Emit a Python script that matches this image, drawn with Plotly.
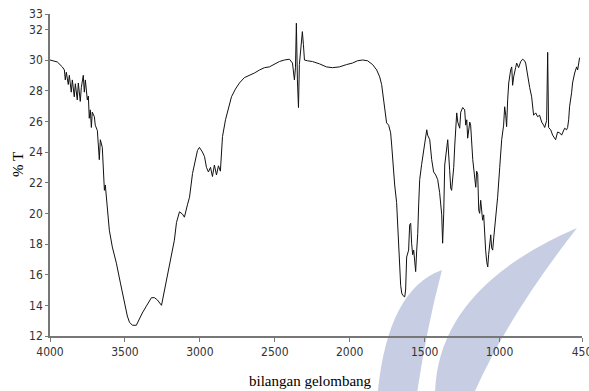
import plotly.graph_objects as go

# Wavenumber (cm-1) and transmittance (%T)
wavenumber = [4000, 3951, 3918, 3904, 3898, 3891, 3878, 3871, 3858, 3851, 3838, 3831, 3818, 3811,
              3798, 3791, 3778, 3771, 3764, 3751, 3744, 3738, 3731, 3724, 3718, 3704, 3698, 3684,
              3671, 3664, 3651, 3644, 3637, 3631, 3617, 3604, 3584, 3557, 3530, 3504, 3484, 3470,
              3450, 3424, 3404, 3384, 3357, 3323, 3303, 3283, 3256, 3236, 3216, 3190, 3170, 3156,
              3136, 3116, 3103, 3083, 3069, 3049, 3029, 3016, 3003, 2983, 2969, 2956, 2943, 2929,
              2916, 2903, 2889, 2876, 2863, 2849, 2829, 2809, 2789, 2763, 2736, 2703, 2669, 2636,
              2602, 2569, 2536, 2502, 2469, 2436, 2402, 2382, 2376, 2369, 2362, 2356, 2349, 2342,
              2336, 2329, 2316, 2309, 2302, 2282, 2249, 2202, 2155, 2115, 2068, 2022, 1982, 1948,
              1914, 1881, 1847, 1820, 1800, 1787, 1780, 1767, 1754, 1740, 1727, 1720, 1713, 1700,
              1687, 1680, 1673, 1667, 1660, 1653, 1646, 1633, 1627, 1620, 1607, 1600, 1593, 1587,
              1580, 1573, 1560, 1553, 1546, 1540, 1533, 1520, 1506, 1493, 1486, 1480, 1466, 1453,
              1440, 1426, 1413, 1400, 1386, 1380, 1373, 1366, 1353, 1346, 1333, 1326, 1320, 1306,
              1299, 1293, 1286, 1279, 1266, 1259, 1246, 1233, 1226, 1219, 1213, 1199, 1193, 1179,
              1166, 1159, 1153, 1146, 1139, 1133, 1126, 1113, 1106, 1099, 1093, 1086, 1079, 1073,
              1066, 1059, 1053, 1046, 1039, 1026, 1013, 999, 993, 986, 973, 966, 959, 953, 946,
              939, 926, 919, 913, 906, 893, 886, 873, 859, 846, 833, 826, 813, 799, 786, 773, 759,
              746, 733, 719, 706, 699, 686, 679, 673, 659, 646, 633, 626, 613, 599, 586, 573, 566,
              553, 546, 539, 533, 519, 513, 499, 486, 479, 466]
transmittance = [30.0, 29.87, 29.55, 29.35, 28.7, 29.2, 28.4, 29.0, 27.9, 28.7, 27.6, 28.45, 27.4, 28.5,
                 27.3, 28.2, 29.0, 27.9, 28.7, 27.4, 27.65, 26.2, 26.75, 25.6, 26.6, 26.3, 25.75, 25.4,
                 23.5, 24.8, 24.3, 22.5, 21.5, 21.85, 20.2, 18.9, 17.8, 16.75, 15.45, 14.15, 13.3, 12.9,
                 12.7, 12.7, 13.15, 13.5, 13.95, 14.5, 14.5, 14.35, 14.0, 15.0, 16.1, 17.15, 18.25, 19.4,
                 20.1, 19.95, 19.75, 20.55, 21.05, 22.6, 23.6, 24.1, 24.3, 24.0, 23.7, 23.0, 22.7, 23.0,
                 22.4, 23.15, 22.5, 23.1, 22.75, 25.0, 26.1, 26.9, 27.6, 28.1, 28.5, 28.85, 29.0, 29.15,
                 29.35, 29.5, 29.55, 29.75, 29.9, 30.0, 30.05, 29.8, 29.0, 28.7, 29.5, 32.4, 28.7, 26.9,
                 29.7, 30.45, 31.85, 31.0, 30.0, 29.95, 29.9, 29.75, 29.55, 29.5, 29.55, 29.7, 29.8, 29.95,
                 30.0, 29.95, 29.7, 29.35, 28.9, 28.4, 27.85, 26.75, 25.9, 25.75, 25.25, 24.45, 23.3, 21.85,
                 20.7, 19.25, 17.8, 16.45, 15.3, 14.8, 14.65, 14.55, 15.0, 17.15, 17.6, 19.25, 19.35, 18.05,
                 17.3, 17.6, 16.2, 17.6, 18.7, 20.55, 22.2, 23.2, 24.15, 24.9, 25.45, 25.1, 24.8, 23.5,
                 22.7, 22.5, 22.2, 21.35, 19.9, 18.05, 19.9, 23.15, 24.3, 24.8, 22.8, 21.65, 21.5, 23.0,
                 24.45, 25.3, 26.55, 25.95, 25.55, 26.6, 26.9, 26.75, 25.75, 26.1, 24.9, 25.95, 25.75, 23.5,
                 22.2, 21.7, 22.75, 22.55, 20.2, 20.0, 20.85, 19.55, 19.9, 18.25, 17.6, 16.85, 16.5, 17.3,
                 18.25, 18.6, 17.75, 17.6, 18.4, 19.55, 21.05, 23.0, 23.8, 24.8, 25.75, 26.95, 26.4, 25.65, 27.4,
                 28.5, 29.35, 29.55, 28.35, 28.9, 29.5, 29.8, 29.5, 29.9, 30.05, 29.95, 29.8, 28.9, 28.2, 27.6, 26.4, 26.55,
                 26.3, 26.4, 25.95, 25.75, 25.6, 26.05, 30.5, 25.6, 25.45, 25.1, 24.9, 24.8, 25.3, 25.25, 25.1, 25.45, 25.55,
                 25.45, 25.6, 26.1, 26.95, 27.9, 28.5, 29.15, 29.55, 29.35, 30.15]

x_ticks = [4000, 3500, 3000, 2500, 2000, 1500, 1000, 450]
x_tick_labels = ["4000", "3500", "3000", "2500", "2000", "1500", "1000", "450"]
y_ticks = [12, 14, 16, 18, 20, 22, 24, 26, 28, 30, 32, 33]
y_tick_labels = ["12", "14", "16", "18", "20", "22", "24", "26", "28", "30", "32", "33"]

W, H = 589, 391
ML, MR, MT, MB = 50, 7, 14, 55
PW, PH = W - ML - MR, H - MT - MB


def pp(px, py):
    # pixel position -> paper coordinates (for the decorative watermark)
    return f"{(px - ML) / PW:.4f},{(H - MB - py) / PH:.4f}"


wm1 = (f"M {pp(377, 400)} Q {pp(386, 290)} {pp(442, 270)} "
       f"Q {pp(426, 330)} {pp(416, 400)} Z")
wm2 = (f"M {pp(435, 400)} Q {pp(433, 290)} {pp(577, 228)} "
       f"Q {pp(505, 320)} {pp(471, 400)} Z")

fig = go.Figure()
fig.add_trace(go.Scatter(x=wavenumber, y=transmittance, mode="lines",
                         line=dict(color="#111111", width=1), showlegend=False,
                         hoverinfo="x+y"))

tick_font = dict(family="Liberation Sans Narrow, DejaVu Sans Condensed, Arial Narrow, sans-serif",
                 size=12, color="#333333")
serif = dict(family="Liberation Serif, Times New Roman, serif", size=15, color="#000000")

fig.update_layout(
    width=W, height=H,
    margin=dict(l=ML, r=MR, t=MT, b=MB, autoexpand=False),
    paper_bgcolor="white", plot_bgcolor="white",
    xaxis=dict(range=[4000, 450], tickmode="array", tickvals=x_ticks, ticktext=x_tick_labels,
               showgrid=False, zeroline=False, showline=True, linecolor="#777777", linewidth=1.5,
               ticks="outside", ticklen=4, tickcolor="#777777", tickfont=tick_font,
               automargin=False, mirror=False, ticklabeloverflow="allow"),
    yaxis=dict(range=[12, 33], tickmode="array", tickvals=y_ticks, ticktext=y_tick_labels,
               showgrid=False, zeroline=False, showline=True, linecolor="#777777", linewidth=1.5,
               ticks="outside", ticklen=3, tickcolor="#777777", tickfont=tick_font,
               automargin=False, mirror=False, ticklabeloverflow="allow"),
    shapes=[
        dict(type="path", path=wm1, xref="paper", yref="paper", fillcolor="#c7cde2",
             line=dict(width=0), layer="below"),
        dict(type="path", path=wm2, xref="paper", yref="paper", fillcolor="#c7cde2",
             line=dict(width=0), layer="below"),
    ],
    annotations=[
        dict(text="bilangan gelombang", xref="paper", yref="paper",
             x=(310 - ML) / PW, y=(H - MB - 381) / PH, showarrow=False,
             xanchor="center", yanchor="middle", font=serif),
        dict(text="% T", xref="paper", yref="paper", textangle=-90,
             x=(18 - ML) / PW, y=(H - MB - 165) / PH, showarrow=False,
             xanchor="center", yanchor="middle", font=serif),
    ],
)

fig.write_html("out.html", config={"displayModeBar": False},
               post_script="document.body.style.margin='0px';document.body.style.overflow='hidden';")
